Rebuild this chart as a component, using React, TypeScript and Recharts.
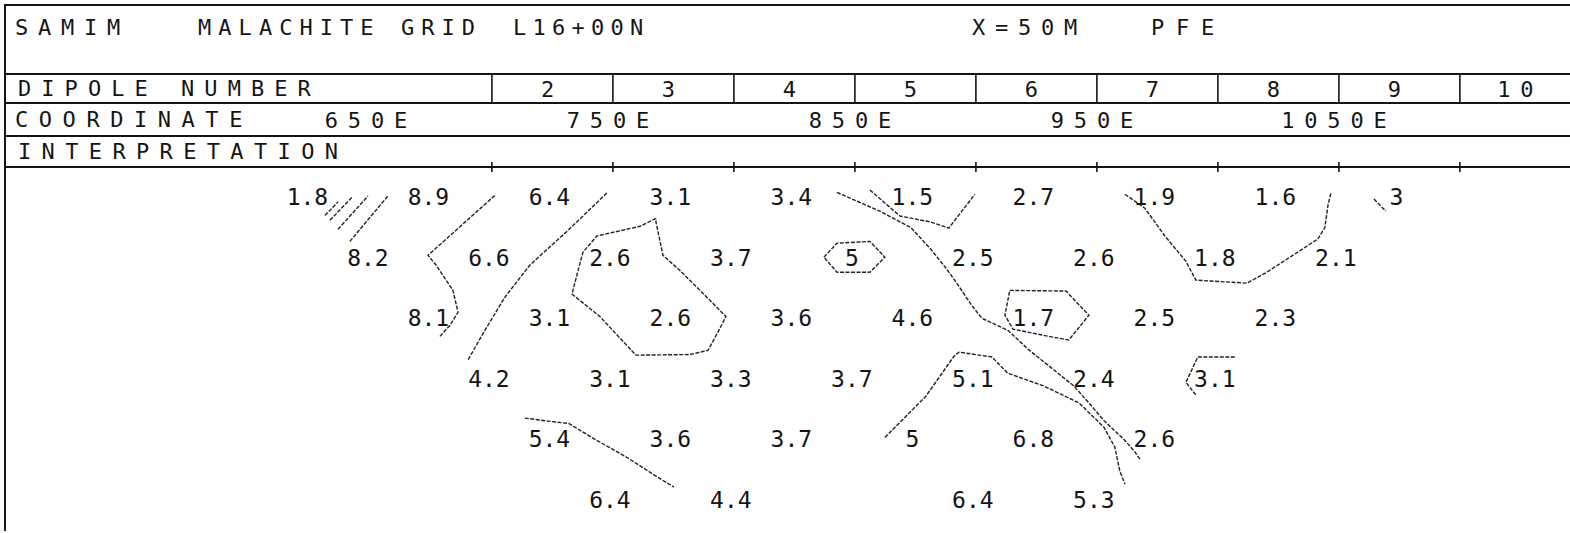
import React from 'react';
import { ScatterChart, Scatter, XAxis, YAxis } from 'recharts';

const W = 1570;
const H = 533;
const INK = '#151515';
const FONT = '"DejaVu Sans Mono", "Liberation Mono", monospace';

// station coordinates (metres E) and apparent resistivity per separation level
const n1Coords = [625, 675, 725, 775, 825, 875, 925, 975, 1025, 1075];
const n1Values = [1.8, 8.9, 6.4, 3.1, 3.4, 1.5, 2.7, 1.9, 1.6, 3];
const n2Coords = [650, 700, 750, 800, 850, 900, 950, 1000, 1050];
const n2Values = [8.2, 6.6, 2.6, 3.7, 5, 2.5, 2.6, 1.8, 2.1];
const n3Coords = [675, 725, 775, 825, 875, 925, 975, 1025];
const n3Values = [8.1, 3.1, 2.6, 3.6, 4.6, 1.7, 2.5, 2.3];
const n4Coords = [700, 750, 800, 850, 900, 950, 1000];
const n4Values = [4.2, 3.1, 3.3, 3.7, 5.1, 2.4, 3.1];
const n5Coords = [725, 775, 825, 875, 925, 975];
const n5Values = [5.4, 3.6, 3.7, 5, 6.8, 2.6];
const n6Coords = [750, 800, 900, 950];
const n6Values = [6.4, 4.4, 6.4, 5.3];

const levels = [1, 2, 3, 4, 5, 6];
const dipoleCenters = [725, 775, 825, 875, 925, 975, 1025, 1075, 1125];
const dipoleNumbers = [2, 3, 4, 5, 6, 7, 8, 9, 10];
const dipoleTicks = [700, 725, 750, 775, 800, 825, 850, 875, 900, 925, 950, 975, 1000, 1025, 1050, 1075, 1100, 1125];
const coordTicks = [650, 750, 850, 950, 1050];
const gridTicks = [700, 750, 800, 850, 900, 950, 1000, 1050, 1100];
const baseTicks = [550, 600, 650, 700, 750, 800, 850, 900, 950, 1000, 1050, 1100];

// contour traces, [metres E, level N]
const hatch1 = [[631.0, 1.3], [636.4, 1.08]];
const hatch2 = [[633.1, 1.38], [642.2, 1.0]];
const hatch3 = [[636.4, 1.53], [648.8, 0.98]];
const hatch4 = [[641.3, 1.73], [657.0, 0.98]];
const contourA = [[701.2, 0.97], [673.6, 1.96], [676.9, 2.12], [683.9, 2.54], [686.0, 2.9], [682.6, 3.12], [678.5, 3.3]];
const contourB = [[747.5, 0.93], [730.6, 1.58], [715.7, 2.12], [705.4, 2.65], [697.1, 3.2], [690.1, 3.69]];
const contourC = [
  [767.8, 1.35], [761.2, 1.48], [743.4, 1.64], [737.6, 1.91], [735.1, 2.29], [733.1, 2.6],
  [744.6, 2.97], [759.5, 3.61], [781.8, 3.6], [789.3, 3.53], [794.2, 3.17], [796.7, 2.97],
  [786.0, 2.54], [777.7, 2.21], [770.7, 1.96], [767.8, 1.41], [767.8, 1.35],
];
const contourD = [
  [842.6, 0.92], [860.3, 1.23], [873.1, 1.5], [881.4, 1.86], [887.6, 2.17], [892.1, 2.42],
  [898.3, 2.79], [902.5, 3.0], [913.2, 3.2], [921.5, 3.51], [931.8, 3.84], [940.5, 4.12],
  [946.7, 4.4], [952.9, 4.69], [961.6, 5.02], [965.7, 5.21], [967.8, 5.33],
];
const contourE = [[856.2, 0.88], [868.6, 1.31], [881.4, 1.41], [888.8, 1.51], [894.2, 1.23], [899.6, 0.95]];
const contourF = [
  [961.6, 0.95], [969.8, 1.18], [978.1, 1.64], [986.8, 2.06], [990.9, 2.37], [1012.0, 2.42],
  [1020.2, 2.24], [1041.3, 1.69], [1044.2, 1.5], [1045.5, 1.13], [1046.7, 0.93],
];
const contourG = [[1064.5, 1.03], [1069.4, 1.23]];
const contourH = [[837.2, 1.99], [842.6, 1.76], [856.2, 1.73], [862.4, 1.99], [856.2, 2.24], [842.6, 2.24], [837.2, 1.99]];
const contourI = [[914.0, 2.54], [937.2, 2.55], [946.7, 2.95], [938.4, 3.36], [927.7, 3.28], [915.3, 3.18], [912.0, 2.95], [914.0, 2.54]];
const contourJ = [
  [862.4, 4.97], [879.3, 4.29], [890.9, 3.63], [893.0, 3.56], [906.6, 3.64], [913.2, 3.91],
  [928.1, 4.12], [942.6, 4.4], [952.9, 4.8], [957.4, 5.13], [959.5, 5.53], [961.6, 5.74],
];
const contourK = [[1007.0, 3.64], [991.7, 3.64], [986.8, 4.06], [990.9, 4.27]];
const contourL = [[713.6, 4.65], [723.1, 4.7], [731.8, 4.74], [741.3, 4.97], [756.2, 5.31], [768.6, 5.63], [775.2, 5.79]];

const contours = [hatch1, hatch2, hatch3, hatch4, contourA, contourB, contourC, contourD, contourE, contourF, contourG, contourH, contourI, contourJ, contourK, contourL];

const X_DOMAIN: [number, number] = [498.8, 1145.5];
const Y_DOMAIN: [number, number] = [0.5, 6.5];
const DIPOLE_H = 29;
const COORD_H = 33;
const GRID_H = 31;

const rows = [
  [n1Coords, n1Values, 1],
  [n2Coords, n2Values, 2],
  [n3Coords, n3Values, 3],
  [n4Coords, n4Values, 4],
  [n5Coords, n5Values, 5],
  [n6Coords, n6Values, 6],
] as [number[], number[], number][];

const valuePoints = rows.flatMap(([xs, vs, n]) => xs.map((x, i) => ({ x, n, v: vs[i] })));

const Empty = () => <g />;

const ValueLabel = (props: any) => {
  const { cx, cy, payload } = props;
  return (
    <text x={cx - 3} y={cy} textAnchor="middle" dominantBaseline="central" fontFamily={FONT} fontSize={23} fill={INK}>
      {String(payload.v)}
    </text>
  );
};

const PlusTick = (props: any) => {
  const { x, y } = props;
  return <line x1={x} x2={x} y1={y - 5} y2={y + 5} stroke={INK} strokeWidth={1.6} />;
};

const CoordTick = (props: any) => {
  const { x, y, payload } = props;
  return (
    <text x={x} y={y - COORD_H / 2 + 1} textAnchor="middle" dominantBaseline="central" fontFamily={FONT} fontSize={22} letterSpacing={9.8} fill={INK}>
      {`${payload.value}E`}
    </text>
  );
};

const DipoleTick = (props: any) => {
  const { x, y, payload } = props;
  const i = dipoleCenters.indexOf(payload.value);
  if (i < 0) {
    return <line x1={x} x2={x} y1={y} y2={y - DIPOLE_H} stroke={INK} strokeWidth={1.6} />;
  }
  return (
    <text x={x} y={y - DIPOLE_H / 2 + 1} textAnchor="middle" dominantBaseline="central" fontFamily={FONT} fontSize={22} letterSpacing={9.8} fill={INK}>
      {dipoleNumbers[i]}
    </text>
  );
};

const headerText = [
  { text: 'SAMIM', x: 15, cy: 28, pitch: 23 },
  { text: 'MALACHITE GRID', x: 198, cy: 28, pitch: 20.3 },
  { text: 'L16+00N', x: 513, cy: 28, pitch: 19.5 },
  { text: 'X=50M', x: 972, cy: 28, pitch: 23 },
  { text: 'PFE', x: 1151, cy: 28, pitch: 25 },
  { text: 'DIPOLE NUMBER', x: 18, cy: 89, pitch: 23.3 },
  { text: 'COORDINATE', x: 15, cy: 120, pitch: 23.8 },
  { text: 'INTERPRETATION', x: 18, cy: 152, pitch: 23.6 },
];

const App: React.FC = () => {
  const axisLine = { stroke: INK, strokeWidth: 2 };
  return (
    <div style={{ position: 'absolute', left: 0, top: 0, width: W, height: H, background: '#fff', overflow: 'hidden' }}>
      <ScatterChart width={W} height={H} margin={{ top: 74, right: 0, bottom: 3, left: 5 }}>
        <XAxis xAxisId="a_grid" orientation="top" type="number" dataKey="x" domain={X_DOMAIN} allowDataOverflow
          ticks={gridTicks} interval={0} height={GRID_H} tickSize={0} tickMargin={0} tickLine={false}
          tick={<PlusTick />} axisLine={axisLine} />
        <XAxis xAxisId="b_coord" orientation="top" type="number" dataKey="x" domain={X_DOMAIN} allowDataOverflow
          ticks={coordTicks} interval={0} height={COORD_H} tickSize={0} tickMargin={0} tickLine={false}
          tick={<CoordTick />} axisLine={axisLine} />
        <XAxis xAxisId="c_dipole" orientation="top" type="number" dataKey="x" domain={X_DOMAIN} allowDataOverflow
          ticks={dipoleTicks} interval={0} height={DIPOLE_H} tickSize={0} tickMargin={0} tickLine={false}
          tick={<DipoleTick />} axisLine={axisLine} />
        <XAxis xAxisId="d_base" orientation="bottom" mirror type="number" dataKey="x" domain={X_DOMAIN} allowDataOverflow
          ticks={baseTicks} interval={0} height={0} tickSize={8} tick={false}
          tickLine={{ stroke: INK, strokeWidth: 1.6 }} axisLine={axisLine} />
        <YAxis yAxisId="left" type="number" dataKey="n" domain={Y_DOMAIN} reversed allowDataOverflow
          ticks={levels} interval={0} mirror width={0} tickSize={6} tickMargin={11}
          tickFormatter={(v: number) => `N = ${v}`}
          tick={{ fontFamily: FONT, fontSize: 20, fill: INK }}
          tickLine={{ stroke: INK, strokeWidth: 1.5 }} axisLine={axisLine} />
        <YAxis yAxisId="right" orientation="right" type="number" dataKey="n" domain={Y_DOMAIN} reversed allowDataOverflow
          ticks={levels} interval={0} mirror width={0} tickSize={0} tickMargin={22}
          tickFormatter={(v: number) => `N = ${v}`}
          tick={{ fontFamily: FONT, fontSize: 20, fill: INK }}
          tickLine={false} axisLine={false} />

        <Scatter data={coordTicks.map((x) => ({ x, n: 1 }))} xAxisId="b_coord" yAxisId="left" shape={Empty} isAnimationActive={false} />
        <Scatter data={dipoleCenters.map((x) => ({ x, n: 1 }))} xAxisId="c_dipole" yAxisId="left" shape={Empty} isAnimationActive={false} />
        <Scatter data={levels.map((n) => ({ x: 1100, n }))} xAxisId="d_base" yAxisId="right" shape={Empty} isAnimationActive={false} />

        {contours.map((c, k) => (
          <Scatter
            key={`c-${k}`}
            data={c.map(([x, n]) => ({ x, n }))}
            xAxisId="a_grid"
            yAxisId="left"
            shape={Empty}
            line={{ stroke: '#222', strokeWidth: 1.4, strokeDasharray: '4 1.5' }}
            lineType="joint"
            isAnimationActive={false}
          />
        ))}

        <Scatter data={valuePoints} xAxisId="d_base" yAxisId="left" shape={<ValueLabel />} isAnimationActive={false} />
      </ScatterChart>

      <div style={{ position: 'absolute', left: 4, top: 4, width: W - 4, height: 2, background: INK }} />
      <div style={{ position: 'absolute', left: 4, top: 4, width: 2, height: 527, background: INK }} />
      <div style={{ position: 'absolute', left: 5, top: 73, width: W - 5, height: 2, background: INK }} />
      {headerText.map((h) => (
        <div
          key={h.text}
          style={{
            position: 'absolute', left: h.x, top: h.cy - 15, height: 30, lineHeight: '30px',
            fontFamily: FONT, fontSize: 22, letterSpacing: h.pitch - 13.25, color: INK, whiteSpace: 'pre',
          }}
        >
          {h.text}
        </div>
      ))}
    </div>
  );
};

export default App;
